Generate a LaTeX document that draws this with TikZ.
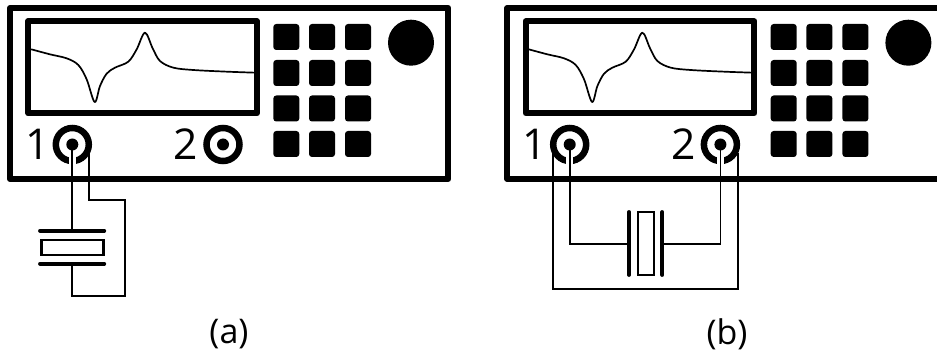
\documentclass[tikz,border=0pt]{standalone}
\usepackage{fontspec}
\setmainfont{Open Sans}
\tikzset{
  frameline/.style={line width=6pt,line join=round},
  keybox/.style={fill=black,rounded corners=3pt},
  curveline/.style={line width=1.7pt,line join=round,line cap=round},
  portring/.style={circle,draw=black,line width=6.5pt,minimum size=33pt,inner sep=0pt,fill=white},
  portdot/.style={circle,fill=black,minimum size=12pt,inner sep=0pt},
  digit/.style={font=\fontsize{42.5}{42.5}\selectfont,inner sep=0pt},
  caption/.style={font=\fontsize{34}{34}\selectfont,inner sep=0pt},
  wire/.style={line width=1.7pt,line join=miter},
  halo/.style={draw=white,line width=6.5pt},
  plate/.style={line width=3.8pt,line cap=round},
  crystal/.style={line width=2.2pt},
  instrument/.pic={
    \draw[frameline] (448.3,179) -- (10,179) -- (10,8) -- (448.3,8) -- cycle;
    \draw[frameline] (28.3,21.3) rectangle (257,113.3);
    \draw[curveline,x=0.33333pt,y=-0.33333pt] plot[smooth,tension=0.55] coordinates {
      (94,148) (150,163) (200,175) (235,195) (260,238) (284,306) (300,258) (320,221) (345,203)
      (385,185) (410,148) (435,98) (458,145) (480,183) (520,203) (580,210) (680,215) (764,218)};
    \foreach \kx in {273.3,309,345} \foreach \ky in {24,60,95.5,131}
      \fill[keybox] (\kx,\ky) rectangle ++(26,26);
    \fill (411,42.7) circle[radius=23];
    \node[portring] (-p1) at (72.3,144.5) {};
    \node[portdot] (-d1) at (72.3,144.5) {};
    \node[portring] (-p2) at (223,144.5) {};
    \node[portdot] (-d2) at (223,144.5) {};
    \node[digit] (-n1) at (37.5,144.5) {1};
    \node[digit] (-n2) at (186,144.5) {2};
  }
}
\begin{document}
\begin{tikzpicture}[x=1pt,y=-1pt]
\useasboundingbox (0,0) rectangle (937,355);
\clip (0,0) rectangle (937,355);
\fill[white] (0,0) rectangle (937,355);
\pic (A) at (0,0) {instrument};
\pic (B) at (497.4,0) {instrument};

% --- (a)
\draw[halo] (A-d1.south) -- ++(0,15);
\coordinate (ao) at (89.3,153);
\coordinate (ac) at (72.3,229.5);
\coordinate (ad) at (72.3,264);
\coordinate (au1) at (40,230.7);
\coordinate (au2) at (104.3,230.7);
\coordinate (al1) at (40,263.7);
\coordinate (al2) at (104.3,263.7);
\draw[wire] (A-d1.center) -- (ac);
\draw[wire] (ao) |- (124.7,199.7) |- (72.3,295.7) -- (ad);
\draw[plate] (au1) -- (au2);
\draw[plate] (al1) -- (al2);
\draw[crystal] (41.5,239.7) rectangle (103.5,255.3);
\node[caption] (capa) at (229,334.5) {(a)};

% --- (b)
\draw[halo] (B-d1.south) -- ++(0,15);
\draw[halo] (B-d2.south) -- ++(0,15);
\coordinate (bl1) at (629,212);
\coordinate (bl2) at (629,275);
\coordinate (br1) at (662.3,212);
\coordinate (br2) at (662.3,275);
\coordinate (blm) at (629,243.7);
\coordinate (brm) at (662.3,243.7);
\draw[wire] (B-d1.center) |- (blm);
\draw[wire] (B-d2.center) |- (brm);
\draw[wire] (552.7,153) |- (737.7,289.3) -- (737.7,153);
\draw[plate] (bl1) -- (bl2);
\draw[plate] (br1) -- (br2);
\draw[crystal] (638,212) rectangle (654.3,275);
\node[caption] (capb) at (727,334.5) {(b)};
\end{tikzpicture}
\end{document}
